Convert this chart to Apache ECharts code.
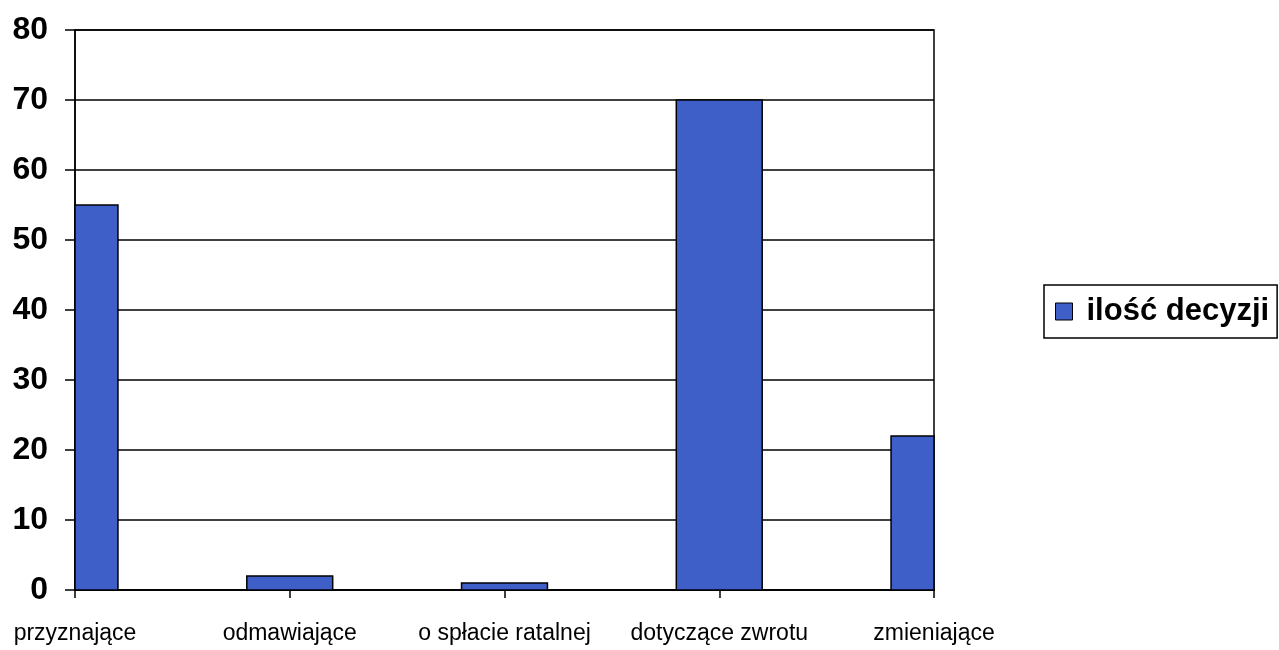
<!DOCTYPE html>
<html>
<head>
<meta charset="utf-8">
<script src="https://cdn.jsdelivr.net/npm/echarts@6/dist/echarts.min.js"></script>
<style>
html,body{margin:0;padding:0;background:#fff;}
#chart{width:1279px;height:650px;}
</style>
</head>
<body>
<div id="chart"></div>
<script>
const categories = ['przyznające', 'odmawiające', 'o spłacie ratalnej', 'dotyczące zwrotu', 'zmieniające'];
const seriesName = 'ilość decyzji';
const values = [55, 2, 1, 70, 22];
const yTicks = [0, 10, 20, 30, 40, 50, 60, 70, 80];

const BAR_COLOR = '#3F5FC8';
const FONT = 'Liberation Sans, Arial, sans-serif';

const chart = echarts.init(document.getElementById('chart'));
chart.setOption({
  animation: false,
  backgroundColor: '#fff',
  grid: {
    left: 75, right: 345, top: 30, bottom: 60,
    show: true, borderColor: '#000', borderWidth: 1.5, backgroundColor: 'transparent'
  },
  legend: {
    data: [{ name: seriesName, icon: 'rect', itemStyle: { color: BAR_COLOR, borderColor: '#000', borderWidth: 1 } }],
    left: 1044, top: 285,
    orient: 'vertical',
    itemWidth: 17, itemHeight: 17,
    padding: [11, 8, 11, 11],
    borderColor: '#000', borderWidth: 1.5,
    textStyle: {
      fontFamily: FONT,
      fontWeight: 'bold', fontSize: 31, color: '#000',
      padding: [0, 0, 0, 9]
    }
  },
  xAxis: {
    type: 'category',
    data: categories,
    boundaryGap: false,
    axisLine: { show: true, lineStyle: { color: '#000', width: 1.5 } },
    axisTick: { show: true, length: 8, lineStyle: { color: '#000', width: 1.5 } },
    axisLabel: { color: '#000', fontSize: 23, margin: 32, fontFamily: FONT, interval: 0 },
    splitLine: { show: false }
  },
  yAxis: {
    type: 'value',
    min: yTicks[0], max: yTicks[yTicks.length - 1], interval: yTicks[1] - yTicks[0],
    axisLine: { show: true, lineStyle: { color: '#000', width: 1.5 } },
    axisTick: { show: true, length: 10, lineStyle: { color: '#000', width: 1.5 } },
    axisLabel: { color: '#000', fontSize: 32, fontWeight: 'bold', margin: 27, fontFamily: FONT },
    splitLine: { show: true, lineStyle: { color: '#000', width: 1.5 } }
  },
  series: [{
    name: seriesName,
    type: 'custom',
    itemStyle: { color: BAR_COLOR },
    data: values.map((v, i) => [i, v]),
    encode: { x: 0, y: 1 },
    renderItem: function (params, api) {
      const x = api.value(0), v = api.value(1);
      const base = api.coord([x, 0]);
      const top = api.coord([x, v]);
      const bw = api.size([1, 0])[0] * 0.4;
      const cs = params.coordSys;
      const rect = echarts.graphic.clipRectByRect(
        { x: base[0] - bw / 2, y: top[1], width: bw, height: base[1] - top[1] },
        { x: cs.x, y: cs.y, width: cs.width, height: cs.height }
      );
      if (!rect) return null;
      return {
        type: 'rect',
        shape: rect,
        style: { fill: BAR_COLOR, stroke: '#000', lineWidth: 1.5 }
      };
    }
  }]
});
</script>
</body>
</html>
